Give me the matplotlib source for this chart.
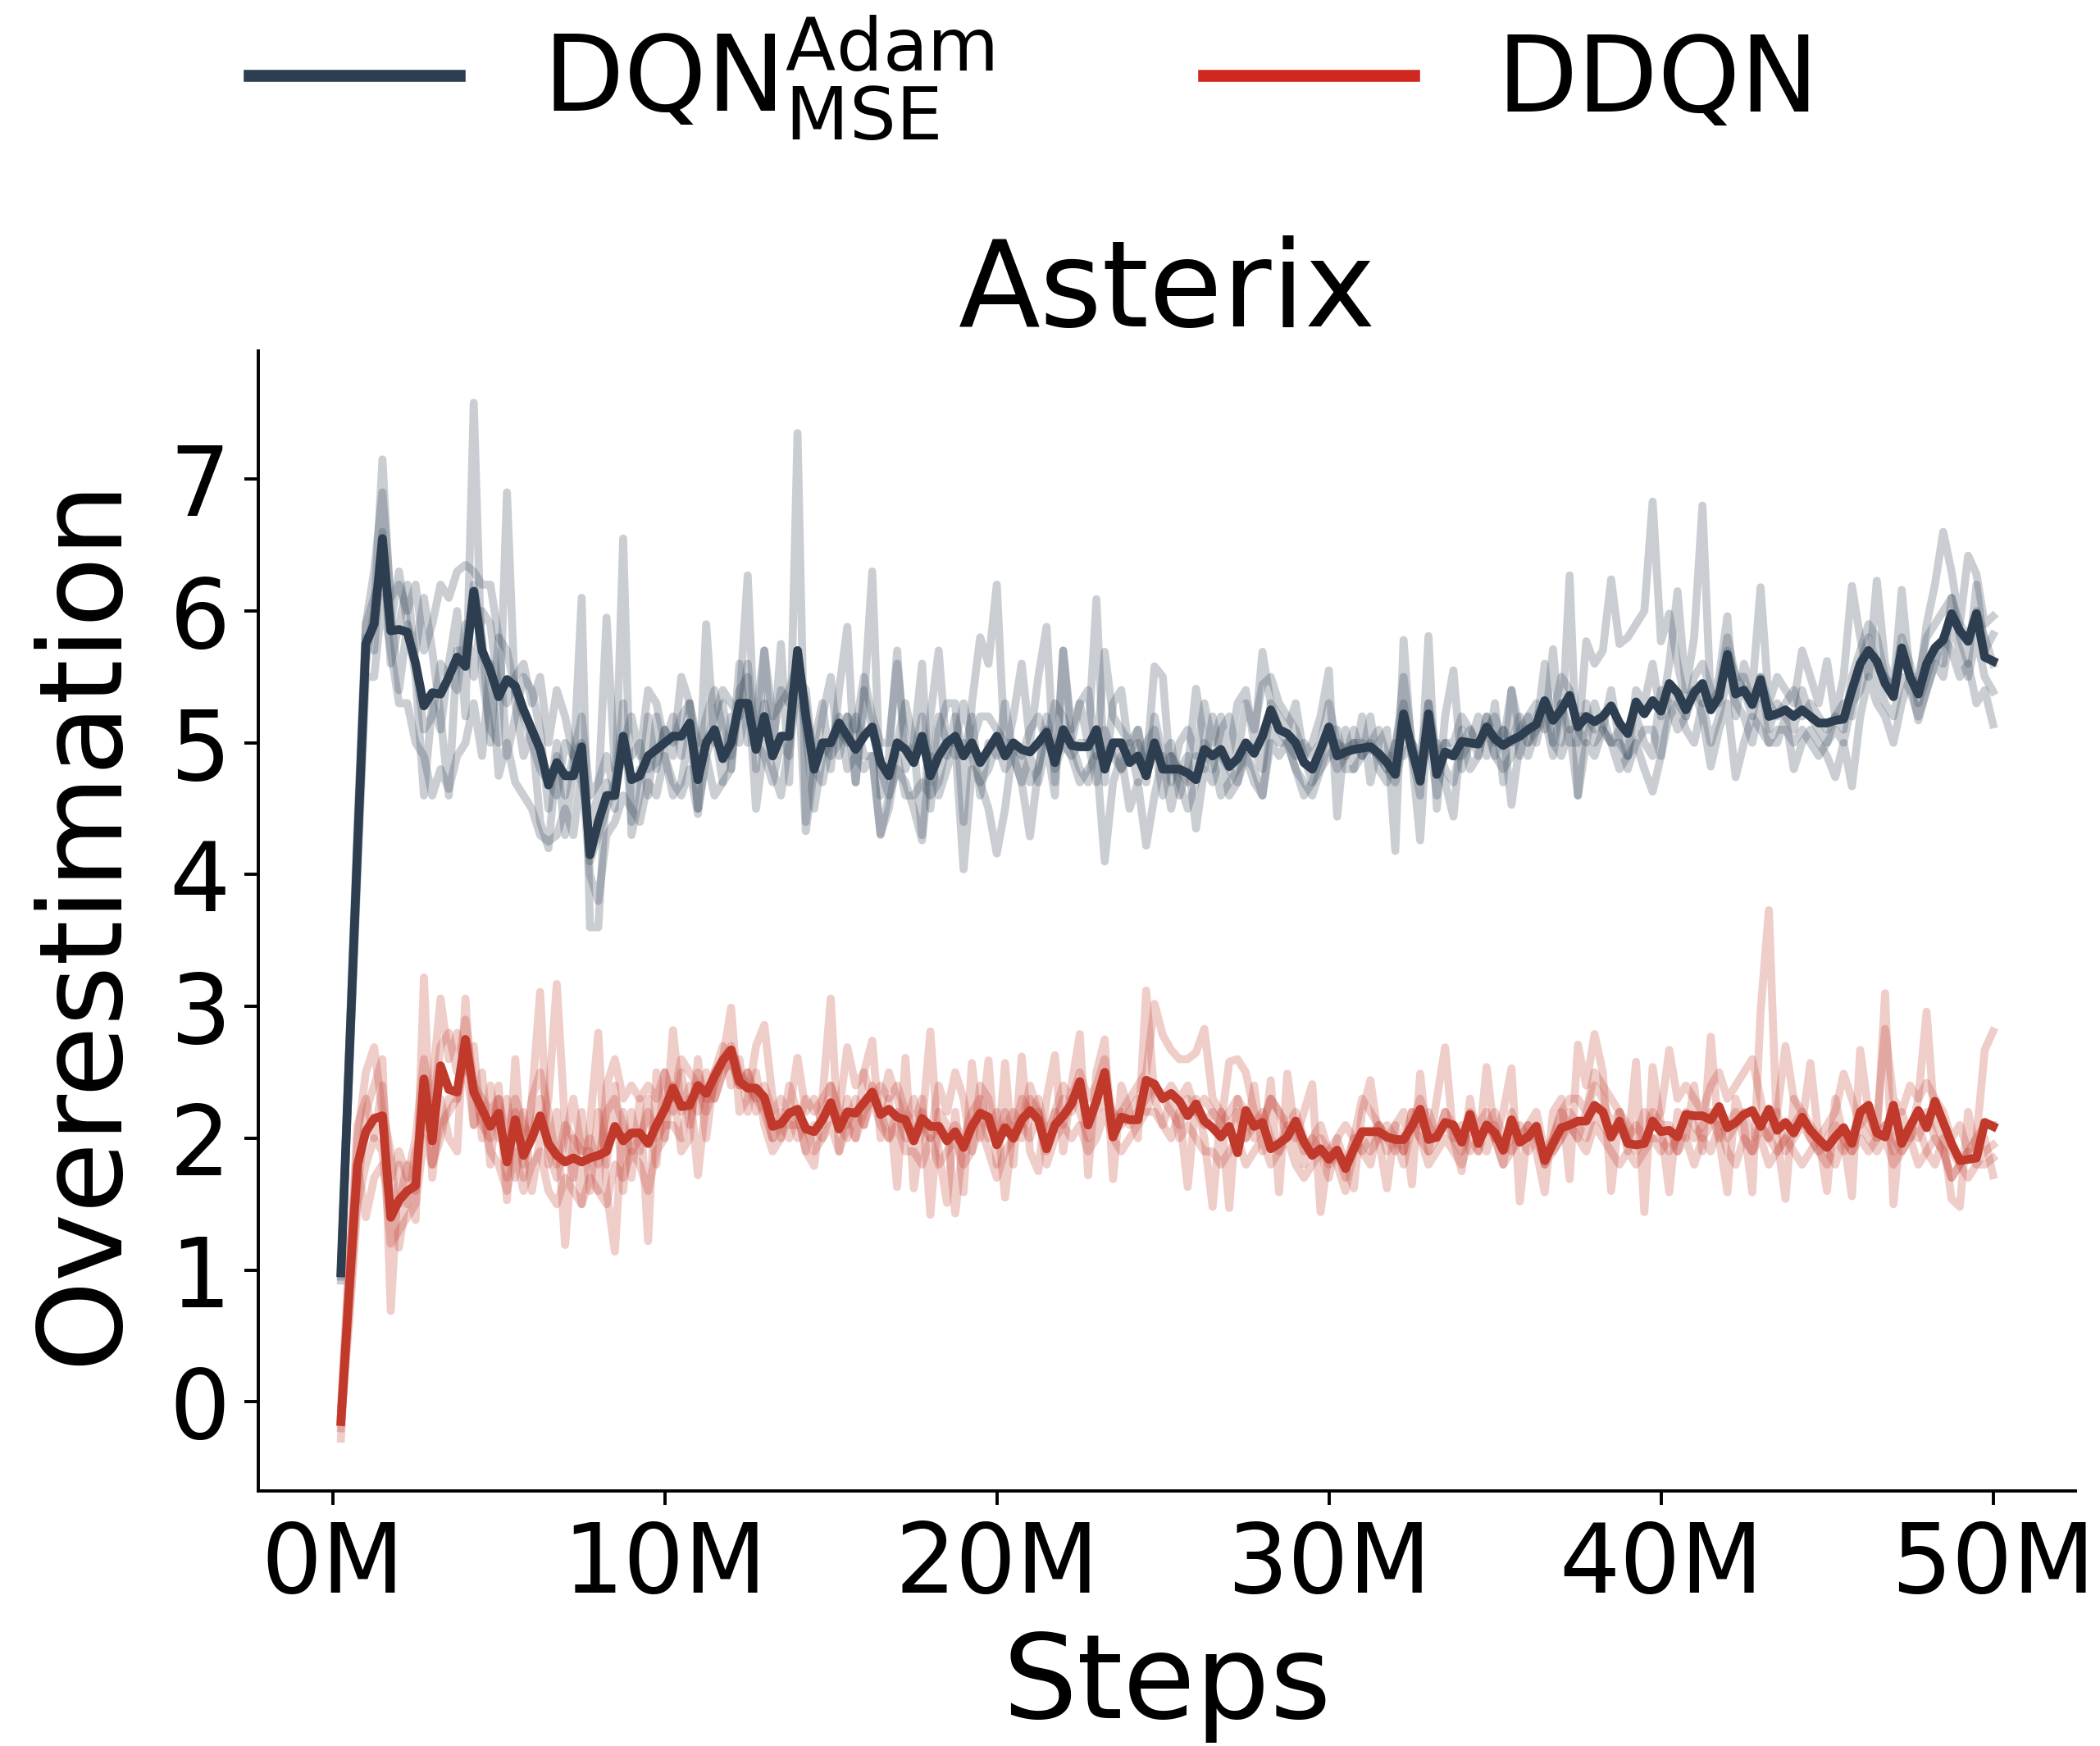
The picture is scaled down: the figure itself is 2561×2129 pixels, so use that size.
import matplotlib
matplotlib.use('Agg')
import matplotlib.pyplot as plt
from matplotlib.lines import Line2D
import numpy as np

# x positions: every 0.25M steps, from 0.25M to 50M
steps = np.arange(1, 201) * 0.25

dqn_mean = [0.98, 2.6, 4.2, 5.75, 5.9, 6.55, 5.85, 5.86, 5.84, 5.6, 5.28, 5.38, 5.37, 5.5, 5.65, 5.58, 6.15, 5.7, 5.55, 5.35,
            5.48, 5.43, 5.25, 5.1, 4.95, 4.68, 4.85, 4.75, 4.75, 4.97, 4.15, 4.4, 4.6, 4.6, 5.05, 4.72, 4.75, 4.9, 4.95, 5.0,
            5.05, 5.05, 5.15, 4.72, 5.0, 5.1, 4.88, 5.0, 5.3, 5.3, 4.95, 5.2, 4.9, 5.05, 5.05, 5.7, 5.2, 4.8, 5.0, 5.0,
            5.15, 5.05, 4.95, 5.05, 5.12, 4.85, 4.75, 5.0, 4.95, 4.85, 5.05, 4.75, 4.9, 5.0, 5.05, 4.9, 5.0, 4.85, 4.95, 5.05,
            4.9, 5.0, 4.95, 4.93, 5.0, 5.08, 4.85, 5.1, 4.98, 4.97, 4.97, 5.1, 4.8, 5.0, 5.0, 4.85, 4.9, 4.75, 5.0, 4.8,
            4.8, 4.8, 4.77, 4.72, 4.95, 4.9, 4.95, 4.82, 4.88, 5.0, 4.92, 5.05, 5.25, 5.1, 5.07, 5.0, 4.85, 4.8, 4.95, 5.12,
            4.9, 4.93, 4.95, 4.96, 4.97, 4.92, 4.85, 4.76, 5.22, 4.95, 4.71, 5.22, 4.76, 4.93, 4.9, 5.01, 5.0, 4.99, 5.12, 5.03,
            4.98, 5.02, 5.05, 5.1, 5.14, 5.32, 5.17, 5.25, 5.36, 5.12, 5.2, 5.16, 5.2, 5.28, 5.15, 5.07, 5.31, 5.22, 5.32, 5.24,
            5.45, 5.38, 5.25, 5.38, 5.45, 5.25, 5.35, 5.67, 5.37, 5.4, 5.29, 5.48, 5.2, 5.22, 5.25, 5.2, 5.25, 5.2, 5.15, 5.15,
            5.17, 5.18, 5.4, 5.6, 5.7, 5.62, 5.45, 5.35, 5.72, 5.5, 5.37, 5.6, 5.72, 5.78, 5.98, 5.85, 5.77, 5.98, 5.65, 5.62]

dqn_seed1 = [0.95, 2.5, 4.1, 5.6, 6.0, 7.15, 6.0, 5.4, 5.9, 5.5, 4.6, 5.3, 5.1, 5.6, 6.0, 5.2, 7.58, 5.5, 5.1, 5.0,
             6.9, 5.3, 4.9, 5.1, 4.4, 4.2, 4.9, 4.3, 4.8, 6.1, 3.6, 3.6, 4.7, 4.5, 6.55, 4.3, 4.6, 5.2, 4.8, 5.1,
             4.9, 5.5, 5.3, 4.5, 5.9, 5.0, 5.3, 4.8, 5.6, 5.0, 5.2, 5.7, 4.9, 5.75, 4.7, 7.35, 4.4, 5.0, 5.3, 4.8,
             5.4, 5.88, 4.7, 5.3, 6.3, 4.6, 4.9, 5.7, 4.8, 5.0, 5.6, 4.5, 5.1, 5.3, 5.3, 4.4, 5.3, 5.8, 5.6, 6.2,
             4.9, 5.2, 5.6, 5.0, 5.5, 5.88, 4.7, 5.7, 5.1, 5.3, 5.0, 6.09, 4.7, 5.3, 5.4, 4.9, 5.1, 4.8, 5.58, 5.5,
             4.7, 5.0, 5.1, 4.9, 5.3, 5.0, 5.2, 4.9, 5.3, 5.4, 5.0, 5.69, 5.3, 5.2, 5.1, 5.3, 4.9, 5.0, 5.2, 5.55,
             4.44, 5.1, 4.8, 5.2, 4.7, 5.0, 5.1, 4.18, 5.78, 4.9, 4.6, 5.81, 4.5, 5.2, 5.55, 4.8, 5.0, 5.2, 4.9, 5.3,
             4.7, 5.4, 4.9, 5.2, 5.3, 5.1, 5.71, 5.0, 6.27, 4.6, 5.3, 5.0, 5.1, 5.4, 5.0, 4.9, 5.4, 5.3, 5.6, 5.2,
             5.6, 6.15, 5.4, 5.8, 6.8, 5.3, 5.5, 5.96, 5.2, 5.6, 5.4, 6.18, 5.3, 5.5, 5.4, 5.3, 5.7, 5.5, 5.3, 5.62,
             5.2, 5.5, 6.19, 5.8, 5.5, 6.23, 5.6, 5.4, 6.16, 5.5, 5.4, 5.9, 6.2, 6.6, 6.3, 5.9, 6.42, 6.28, 5.9, 5.96]
dqn_seed2 = [0.92, 2.7, 4.4, 5.9, 6.3, 6.9, 6.1, 6.2, 6.0, 6.2, 5.7, 5.9, 6.2, 6.1, 6.3, 6.35, 6.3, 6.2, 6.2, 5.8,
             5.7, 5.4, 5.2, 5.0, 4.8, 4.7, 4.6, 5.0, 4.9, 4.7, 4.4, 4.6, 5.95, 4.8, 5.0, 5.2, 4.9, 5.4, 5.3, 5.0,
             5.2, 4.9, 5.3, 4.9, 5.2, 5.4, 5.1, 4.9, 5.3, 6.27, 4.8, 5.7, 5.2, 5.3, 5.4, 5.6, 5.3, 4.8, 4.7, 5.0,
             5.1, 5.0, 5.2, 4.9, 4.9, 4.3, 4.6, 5.0, 5.3, 5.0, 4.3, 5.2, 5.7, 4.9, 5.2, 4.9, 5.2, 4.6, 5.0, 4.9,
             5.3, 4.9, 4.7, 4.29, 4.8, 5.1, 4.8, 5.0, 4.9, 4.7, 4.8, 4.9, 4.1, 4.7, 4.9, 4.5, 4.7, 4.22, 4.6, 4.9,
             4.5, 4.8, 4.9, 4.35, 4.8, 4.7, 4.9, 4.6, 4.7, 4.9, 4.8, 4.6, 5.0, 4.9, 5.0, 4.8, 4.7, 4.6, 4.8, 4.9,
             5.0, 4.9, 5.1, 4.9, 5.2, 4.8, 4.7, 5.0, 5.3, 4.9, 4.26, 5.3, 4.8, 4.7, 4.44, 5.1, 4.8, 4.9, 5.2, 4.9,
             5.1, 4.53, 5.0, 4.9, 5.1, 5.2, 4.9, 5.3, 5.0, 5.0, 5.77, 5.6, 5.7, 6.24, 5.75, 5.8, 5.9, 6.0, 6.83, 5.77,
             5.98, 5.6, 5.3, 5.4, 5.2, 4.82, 5.1, 5.3, 4.74, 5.0, 5.2, 5.1, 5.0, 5.0, 5.2, 4.8, 5.0, 5.1, 5.0, 4.9,
             4.74, 5.0, 4.67, 5.2, 5.5, 5.3, 5.2, 5.0, 5.3, 5.5, 5.17, 5.4, 5.6, 5.8, 5.7, 5.5, 5.6, 5.3, 5.4, 5.14]
dqn_seed3 = [0.97, 2.6, 4.2, 5.8, 5.7, 6.6, 5.6, 5.9, 6.2, 5.6, 5.1, 5.2, 5.6, 5.5, 5.4, 5.9, 5.5, 6.0, 5.9, 5.4,
             5.3, 5.5, 5.6, 5.3, 5.5, 5.0, 5.4, 5.2, 4.9, 5.0, 4.1, 4.3, 4.5, 4.7, 4.9, 4.9, 5.0, 4.6, 5.2, 4.9,
             4.6, 4.7, 5.1, 4.5, 4.9, 4.6, 4.7, 4.8, 5.4, 5.5, 4.5, 5.0, 4.8, 4.6, 5.0, 5.6, 4.33, 4.8, 5.2, 5.5,
             4.9, 5.2, 4.7, 5.4, 5.1, 4.8, 4.6, 4.8, 4.7, 4.5, 4.26, 4.9, 4.6, 4.8, 5.0, 4.04, 4.8, 4.7, 4.5, 4.16,
             4.5, 5.0, 4.9, 5.1, 5.2, 5.0, 5.3, 5.2, 5.0, 5.3, 5.4, 4.9, 5.69, 5.2, 5.1, 5.0, 5.1, 4.7, 5.2, 4.9,
             5.0, 4.6, 4.8, 5.41, 5.0, 4.8, 5.1, 5.2, 4.9, 5.3, 5.1, 5.44, 5.5, 5.3, 5.2, 5.1, 4.9, 4.7, 4.8, 5.0,
             4.8, 4.9, 5.0, 4.9, 5.0, 5.1, 4.9, 4.9, 5.5, 5.0, 4.9, 5.3, 4.9, 5.0, 5.0, 5.2, 5.1, 5.0, 5.1, 5.2,
             5.0, 5.4, 5.1, 5.0, 5.2, 5.3, 5.2, 5.5, 5.4, 5.1, 5.0, 5.3, 5.1, 5.0, 5.1, 4.9, 5.2, 5.0, 4.9, 5.4,
             5.3, 5.1, 5.2, 5.5, 5.6, 5.4, 5.3, 5.7, 5.5, 5.4, 5.2, 5.5, 5.1, 5.3, 5.2, 5.1, 5.4, 5.2, 5.1, 5.0,
             5.2, 5.1, 5.5, 5.7, 5.9, 5.8, 5.5, 5.4, 5.8, 5.6, 5.3, 5.5, 5.7, 5.6, 6.1, 5.8, 5.6, 6.2, 5.7, 5.82]
dqn_seed4 = [0.98, 2.5, 4.0, 5.5, 5.5, 6.1, 5.7, 5.3, 5.3, 5.0, 4.9, 4.6, 4.8, 4.65, 4.9, 5.0, 5.3, 4.9, 5.6, 4.75,
             5.0, 4.7, 4.6, 4.5, 4.3, 4.25, 4.3, 4.5, 4.3, 4.8, 4.0, 3.8, 4.3, 4.4, 4.6, 4.5, 4.4, 4.7, 4.6, 4.9,
             4.7, 4.6, 4.8, 4.46, 4.9, 5.1, 4.7, 5.2, 5.0, 5.3, 5.0, 4.9, 4.7, 5.0, 4.9, 5.5, 5.1, 4.5, 4.9, 5.0,
             5.2, 4.8, 4.9, 4.8, 4.9, 4.31, 4.5, 4.9, 4.6, 4.6, 4.7, 4.6, 4.7, 5.0, 4.9, 5.0, 4.9, 4.7, 4.8, 5.0,
             4.8, 4.9, 4.7, 4.9, 4.7, 5.0, 4.6, 5.7, 5.0, 4.8, 4.7, 5.0, 4.9, 5.0, 4.8, 4.9, 5.0, 4.8, 5.0, 4.6,
             4.9, 4.7, 4.5, 4.7, 5.0, 4.9, 4.6, 4.7, 4.8, 4.9, 4.7, 4.6, 5.1, 5.0, 5.0, 4.8, 4.6, 4.7, 4.9, 5.1,
             5.1, 4.8, 4.8, 4.9, 5.0, 4.9, 4.8, 4.7, 5.0, 5.0, 4.7, 5.1, 4.6, 5.0, 4.9, 4.9, 5.0, 5.0, 5.1, 4.9,
             4.8, 4.9, 5.1, 5.2, 5.0, 5.3, 5.0, 4.9, 5.1, 4.6, 5.0, 4.9, 5.1, 5.0, 4.8, 4.9, 5.0, 4.8, 4.63, 4.9,
             5.2, 5.3, 5.1, 5.0, 5.3, 5.0, 5.2, 5.5, 5.3, 5.2, 5.0, 5.3, 5.0, 5.1, 5.1, 5.0, 5.1, 5.0, 4.9, 5.0,
             5.1, 5.0, 5.3, 5.4, 5.6, 5.5, 5.3, 5.2, 5.5, 5.4, 5.2, 5.4, 5.6, 5.5, 5.9, 5.7, 5.5, 5.8, 5.5, 5.39]
dqn_seed5 = [1.0, 2.7, 4.3, 5.9, 6.1, 6.3, 5.9, 6.3, 5.9, 5.7, 6.1, 5.7, 5.2, 4.6, 5.7, 5.7, 6.2, 5.8, 5.0, 5.8,
             4.9, 5.2, 5.5, 5.4, 5.1, 4.5, 5.0, 4.6, 4.9, 5.2, 4.6, 4.7, 4.9, 4.6, 5.3, 4.4, 4.8, 4.8, 4.85, 5.1,
             5.0, 5.2, 5.3, 5.0, 5.0, 5.2, 5.4, 5.3, 5.2, 5.6, 5.0, 5.3, 5.0, 5.4, 5.3, 5.5, 5.4, 4.8, 5.0, 4.9,
             5.0, 5.2, 5.1, 5.5, 5.2, 5.0, 5.0, 5.6, 5.0, 4.9, 5.2, 4.7, 5.2, 5.0, 5.0, 5.3, 5.0, 5.2, 5.2, 5.1,
             5.0, 5.0, 4.9, 4.7, 4.8, 5.2, 4.9, 5.0, 4.9, 5.0, 5.0, 4.7, 5.1, 4.9, 4.8, 5.0, 4.7, 5.0, 5.1, 4.8,
             4.9, 4.8, 4.7, 4.9, 4.8, 5.2, 4.9, 4.8, 4.7, 5.0, 4.95, 4.8, 5.3, 5.1, 5.0, 4.9, 5.0, 4.9, 5.0, 5.3,
             5.0, 4.95, 5.0, 5.0, 4.95, 4.9, 4.8, 5.0, 4.9, 5.0, 4.8, 5.0, 5.0, 4.8, 4.7, 5.0, 5.1, 4.9, 5.2, 5.0,
             5.1, 5.0, 5.2, 5.0, 5.1, 5.6, 5.0, 5.3, 5.1, 5.2, 5.2, 5.1, 5.2, 5.0, 5.0, 4.8, 5.0, 5.1, 5.1, 4.9,
             5.4, 5.3, 5.2, 5.4, 5.3, 5.3, 5.4, 5.8, 5.5, 5.5, 5.3, 5.5, 5.3, 5.2, 5.3, 5.4, 5.2, 5.3, 5.2, 5.1,
             5.2, 5.3, 5.2, 5.6, 5.8, 5.6, 5.5, 5.4, 5.7, 5.5, 5.5, 5.8, 5.9, 6.0, 6.1, 5.9, 5.8, 6.0, 5.8, 5.6]

ddqn_mean = [-0.15, 0.85, 1.8, 2.05, 2.15, 2.17, 1.4, 1.53, 1.6, 1.64, 2.45, 1.98, 2.55, 2.37, 2.35, 2.75, 2.35, 2.22, 2.09, 2.19,
             1.82, 2.14, 1.87, 2.0, 2.17, 1.96, 1.87, 1.82, 1.85, 1.82, 1.85, 1.87, 1.9, 2.09, 1.98, 2.04, 2.04, 1.96, 2.1, 2.22,
             2.38, 2.24, 2.25, 2.4, 2.34, 2.47, 2.59, 2.67, 2.43, 2.38, 2.38, 2.31, 2.09, 2.11, 2.19, 2.22, 2.07, 2.05, 2.14, 2.27,
             2.07, 2.2, 2.19, 2.27, 2.35, 2.18, 2.22, 2.16, 2.14, 1.98, 2.15, 2.09, 2.09, 1.98, 2.05, 1.93, 2.09, 2.19, 2.16, 1.95,
             2.08, 2.0, 2.14, 2.21, 2.14, 1.92, 2.1, 2.17, 2.26, 2.43, 2.1, 2.28, 2.5, 2.01, 2.16, 2.14, 2.14, 2.44, 2.41, 2.3,
             2.34, 2.28, 2.17, 2.26, 2.13, 2.08, 2.01, 2.09, 1.89, 2.21, 2.09, 2.12, 1.92, 1.96, 2.01, 2.13, 1.97, 1.87, 1.92, 1.84,
             1.91, 1.77, 1.92, 2.05, 2.05, 2.05, 2.01, 1.99, 1.99, 2.09, 2.22, 1.99, 2.01, 2.12, 2.1, 1.97, 2.18, 1.96, 2.1, 2.04,
             1.91, 2.14, 1.97, 2.01, 2.09, 1.83, 1.96, 2.08, 2.1, 2.13, 2.13, 2.25, 2.2, 2.01, 2.13, 1.96, 1.95, 1.96, 2.13, 2.05,
             2.06, 2.01, 2.18, 2.17, 2.17, 2.14, 2.24, 2.08, 2.12, 2.18, 2.21, 2.09, 2.22, 2.06, 2.12, 2.04, 2.16, 2.06, 1.99, 1.93,
             2.01, 2.08, 1.96, 2.2, 2.25, 2.04, 2.01, 2.25, 1.96, 2.09, 2.21, 2.08, 2.28, 2.12, 1.96, 1.83, 1.84, 1.85, 2.12, 2.09]

ddqn_seed1 = [-0.28, 0.9, 2.0, 2.5, 2.69, 2.2, 1.9, 1.17, 1.6, 1.38, 3.22, 1.7, 2.3, 2.0, 1.9, 3.06, 2.1, 2.5, 1.8, 2.4,
              1.53, 2.6, 1.7, 2.3, 3.11, 1.8, 2.2, 1.19, 2.0, 1.5, 2.1, 2.8, 1.6, 1.14, 2.2, 1.7, 2.3, 1.22, 2.5, 2.0,
              2.82, 2.2, 2.4, 1.72, 2.3, 2.5, 2.6, 2.99, 2.2, 2.3, 2.7, 2.86, 2.3, 2.0, 2.4, 2.2, 1.9, 1.79, 2.3, 3.06,
              1.9, 2.3, 2.0, 2.5, 2.74, 2.0, 2.3, 1.63, 2.61, 1.62, 2.1, 2.81, 1.9, 1.51, 2.2, 1.59, 2.57, 2.0, 2.59, 1.8,
              2.57, 1.8, 2.62, 1.9, 1.75, 2.3, 2.63, 1.9, 2.4, 2.79, 1.72, 2.5, 2.75, 1.69, 2.4, 2.2, 2.0, 3.12, 2.3, 2.1,
              2.0, 2.2, 1.63, 2.3, 2.0, 1.48, 2.2, 1.47, 2.3, 2.0, 2.4, 1.9, 2.44, 1.59, 2.49, 2.0, 2.2, 2.41, 1.44, 1.9,
              2.0, 1.8, 1.62, 2.2, 2.44, 2.0, 1.62, 2.1, 2.2, 1.65, 2.49, 1.9, 2.3, 2.69, 2.0, 1.75, 2.3, 1.9, 2.54, 2.0,
              2.2, 2.53, 1.52, 2.1, 1.9, 1.59, 2.2, 2.3, 1.69, 2.71, 2.4, 2.79, 2.5, 1.6, 2.2, 1.9, 2.58, 1.44, 2.54, 2.1,
              1.59, 2.2, 2.0, 2.4, 1.9, 2.77, 2.0, 1.59, 2.3, 2.1, 1.59, 2.96, 3.73, 2.0, 1.54, 2.3, 2.1, 2.57, 2.0, 1.6,
              2.3, 2.0, 1.56, 2.67, 2.2, 2.0, 3.1, 1.5, 2.2, 2.0, 2.3, 2.96, 2.1, 2.0, 1.54, 1.48, 2.2, 1.9, 2.0, 1.72]
ddqn_seed2 = [-0.2, 0.7, 1.6, 2.2, 2.4, 2.6, 0.69, 1.8, 1.5, 1.9, 2.1, 2.4, 3.06, 2.6, 2.8, 2.5, 2.7, 2.0, 2.4, 2.0,
              2.3, 1.7, 2.2, 1.6, 2.0, 2.3, 3.17, 2.1, 1.7, 2.2, 1.6, 2.2, 1.8, 2.4, 1.6, 2.2, 1.9, 2.3, 1.8, 2.5,
              2.3, 2.6, 2.5, 2.4, 2.2, 2.4, 2.6, 2.7, 2.5, 2.4, 2.3, 2.4, 2.2, 2.3, 2.2, 2.61, 2.2, 2.3, 2.1, 2.4,
              2.2, 2.69, 2.4, 2.5, 2.3, 2.4, 2.3, 2.4, 2.2, 2.1, 2.3, 1.42, 2.2, 2.1, 1.43, 2.0, 2.1, 2.2, 2.0, 2.2,
              1.55, 2.1, 2.0, 2.3, 2.2, 1.9, 2.1, 2.3, 2.2, 2.4, 2.1, 2.3, 2.5, 2.1, 2.2, 2.3, 2.4, 2.5, 3.02, 2.78,
              2.67, 2.6, 2.6, 2.65, 2.83, 2.3, 2.2, 2.1, 2.2, 2.0, 2.1, 2.2, 2.0, 1.9, 2.1, 2.0, 1.8, 2.0, 1.9, 1.8,
              1.9, 1.7, 2.0, 2.3, 2.2, 2.1, 2.0, 1.9, 2.0, 2.1, 2.3, 2.1, 2.0, 2.2, 2.1, 2.0, 2.2, 2.1, 2.2, 2.0,
              1.8, 2.2, 2.0, 2.1, 2.2, 1.9, 2.0, 2.2, 2.3, 2.3, 2.2, 2.5, 2.4, 2.3, 2.2, 2.1, 2.0, 2.2, 2.1, 2.2,
              2.67, 2.3, 2.4, 2.3, 2.2, 2.4, 2.5, 2.3, 2.4, 2.5, 2.6, 2.3, 2.0, 2.2, 2.7, 2.3, 2.2, 2.1, 2.0, 2.1,
              2.2, 2.49, 2.3, 2.1, 2.2, 2.1, 2.83, 2.3, 2.2, 2.4, 2.3, 2.42, 2.3, 2.2, 2.0, 2.1, 1.9, 2.0, 2.67, 2.81]
ddqn_seed3 = [-0.1, 1.0, 2.1, 2.3, 2.0, 2.4, 1.7, 1.9, 1.7, 2.0, 2.6, 2.2, 2.7, 2.8, 2.5, 2.9, 2.4, 2.3, 2.2, 2.3,
              2.0, 2.3, 2.1, 2.0, 2.3, 1.9, 1.7, 2.0, 2.3, 1.9, 2.0, 1.8, 2.2, 2.3, 2.1, 1.9, 2.0, 2.2, 2.0, 2.1,
              2.1, 2.0, 2.3, 2.2, 2.5, 2.3, 2.5, 2.6, 2.4, 2.5, 2.3, 2.2, 2.0, 2.1, 2.0, 2.2, 1.9, 2.1, 2.0, 2.2,
              2.1, 2.0, 2.2, 2.1, 2.3, 2.1, 2.0, 2.2, 2.0, 2.0, 2.2, 2.0, 2.1, 2.0, 2.1, 2.0, 2.2, 2.3, 2.1, 2.0,
              2.1, 2.2, 2.1, 2.4, 2.2, 2.0, 2.2, 2.1, 2.3, 2.2, 2.0, 2.2, 2.3, 2.2, 2.1, 2.2, 2.3, 2.2, 2.4, 2.3,
              2.2, 2.1, 2.3, 2.2, 2.1, 2.2, 2.1, 2.58, 2.6, 2.5, 2.2, 2.1, 2.3, 2.2, 2.0, 2.1, 1.9, 2.0, 2.1, 1.9,
              1.8, 1.6, 1.9, 2.0, 1.9, 2.0, 2.1, 2.0, 1.8, 2.1, 2.0, 1.8, 1.9, 2.0, 1.9, 1.8, 2.0, 1.9, 2.1, 2.0,
              1.8, 1.9, 2.0, 1.9, 2.0, 1.8, 1.9, 2.0, 2.1, 2.0, 1.9, 2.1, 2.0, 1.9, 1.8, 1.9, 1.8, 1.9, 2.0, 1.9,
              2.0, 1.9, 2.1, 2.0, 2.1, 2.2, 2.0, 2.1, 2.2, 2.0, 1.9, 2.1, 2.0, 2.2, 1.9, 2.0, 2.1, 2.0, 1.9, 1.8,
              2.0, 1.9, 2.0, 2.2, 2.1, 2.0, 2.1, 1.9, 2.0, 2.1, 2.0, 2.2, 2.0, 1.9, 1.7, 1.8, 1.9, 2.0, 2.1, 2.1]
ddqn_seed4 = [-0.15, 0.6, 1.5, 1.8, 2.0, 1.9, 1.2, 1.3, 1.4, 1.5, 2.0, 1.8, 2.1, 2.2, 2.3, 2.6, 2.1, 2.2, 1.9, 1.8,
              1.6, 1.9, 1.6, 1.8, 1.9, 1.6, 1.5, 1.7, 1.6, 1.5, 1.7, 1.6, 1.5, 1.8, 1.7, 1.9, 1.8, 1.6, 1.9, 2.0,
              2.4, 1.9, 2.0, 2.6, 2.0, 2.5, 2.7, 2.4, 2.6, 2.2, 2.5, 2.1, 1.9, 2.0, 2.2, 2.0, 2.1, 1.9, 2.0, 2.1,
              1.9, 2.1, 2.0, 2.2, 2.3, 2.2, 2.0, 2.1, 1.9, 1.9, 1.8, 2.0, 1.8, 1.9, 2.0, 1.8, 1.9, 2.1, 1.9, 1.7,
              1.9, 2.0, 2.1, 2.0, 2.2, 1.8, 2.0, 2.1, 2.0, 2.1, 1.9, 2.0, 2.2, 2.0, 1.9, 2.0, 2.1, 2.2, 2.2, 2.1,
              2.3, 2.0, 2.1, 2.0, 1.9, 1.9, 1.8, 1.9, 2.0, 1.8, 1.9, 2.0, 1.8, 1.9, 2.0, 1.8, 1.7, 1.8, 1.9, 1.7,
              2.0, 2.1, 2.0, 1.9, 1.8, 2.1, 2.0, 2.1, 1.9, 2.2, 2.1, 2.2, 2.0, 2.2, 2.0, 2.1, 1.9, 2.0, 2.1, 2.2,
              2.0, 1.9, 2.1, 2.0, 2.1, 1.8, 2.0, 2.2, 2.1, 2.0, 2.2, 2.4, 2.3, 2.1, 2.2, 2.0, 2.1, 2.0, 2.2, 2.1,
              2.1, 1.9, 2.0, 1.8, 2.0, 1.9, 2.1, 1.9, 1.8, 2.0, 1.9, 2.0, 1.8, 1.9, 2.0, 1.9, 1.8, 1.9, 2.0, 1.9,
              1.8, 2.0, 1.9, 2.1, 2.0, 1.9, 2.0, 1.8, 1.9, 2.0, 1.8, 1.9, 2.0, 1.9, 1.7, 1.8, 1.9, 1.8, 1.9, 1.95]
ddqn_seed5 = [-0.05, 1.1, 1.8, 1.4, 1.7, 1.8, 1.5, 1.5, 1.8, 1.6, 2.3, 1.8, 2.0, 2.3, 2.3, 2.7, 2.4, 2.1, 2.0, 2.3,
              1.7, 2.2, 1.8, 2.3, 2.5, 2.2, 1.8, 2.1, 2.0, 1.9, 1.9, 1.6, 2.4, 2.6, 2.3, 2.4, 2.3, 2.4, 2.3, 2.5,
              2.2, 2.5, 2.1, 2.5, 2.3, 2.3, 2.5, 2.6, 2.4, 2.5, 2.2, 2.3, 2.0, 2.2, 2.1, 2.1, 2.3, 2.2, 2.3, 2.4,
              2.2, 2.1, 2.3, 2.1, 2.4, 2.2, 2.5, 2.3, 2.1, 2.3, 2.1, 2.0, 2.4, 2.2, 2.5, 2.3, 1.9, 2.4, 2.3, 2.0,
              2.2, 2.0, 2.3, 2.2, 2.3, 2.0, 2.2, 2.4, 2.3, 2.5, 2.3, 2.4, 2.6, 2.1, 2.2, 2.1, 2.2, 2.3, 2.4, 2.3,
              2.4, 2.3, 2.4, 2.2, 2.3, 2.2, 2.1, 2.2, 2.3, 2.2, 2.0, 2.1, 2.3, 2.2, 2.1, 2.2, 2.0, 1.9, 2.0, 1.9,
              1.9, 1.8, 2.0, 1.9, 2.0, 2.1, 1.9, 2.0, 1.9, 2.2, 2.0, 1.9, 2.0, 2.1, 2.0, 1.9, 2.1, 2.0, 1.9, 2.1,
              1.9, 2.0, 2.0, 2.1, 2.0, 1.9, 1.9, 2.0, 2.2, 2.1, 2.0, 2.2, 2.1, 2.0, 2.1, 2.0, 1.9, 2.0, 2.0, 2.0,
              1.9, 2.0, 2.2, 2.1, 2.0, 2.1, 2.2, 2.0, 2.1, 2.2, 2.0, 2.1, 2.0, 1.9, 2.0, 2.1, 2.2, 2.0, 1.9, 2.0,
              2.1, 2.0, 1.9, 2.0, 1.9, 2.0, 2.1, 2.0, 1.9, 2.0, 2.1, 1.9, 1.8, 2.0, 1.9, 1.8, 1.7, 1.8, 1.8, 1.85]

dqn_seeds = [dqn_seed1, dqn_seed2, dqn_seed3, dqn_seed4, dqn_seed5]
ddqn_seeds = [ddqn_seed1, ddqn_seed2, ddqn_seed3, ddqn_seed4, ddqn_seed5]

blue = '#2c3e50'
red = '#c0392b'

fig = plt.figure(figsize=(2561 / 350, 2129 / 350), dpi=350)
ax = fig.add_axes([0.1230, 0.1463, 0.8654, 0.6527])

for s in dqn_seeds:
    ax.plot(steps, s, color=blue, alpha=0.25, lw=2.0)
for s in ddqn_seeds:
    ax.plot(steps, s, color=red, alpha=0.25, lw=2.0)
ax.plot(steps, dqn_mean, color=blue, lw=2.2)
ax.plot(steps, ddqn_mean, color=red, lw=2.2)

ax.spines['top'].set_visible(False)
ax.spines['right'].set_visible(False)
ax.set_xticks([0, 10, 20, 30, 40, 50])
ax.set_xticklabels(['0M', '10M', '20M', '30M', '40M', '50M'])
ax.set_yticks([0, 1, 2, 3, 4, 5, 6, 7])
ax.tick_params(labelsize=24)
ax.set_xlabel('Steps', fontsize=29.5, labelpad=4)
ax.set_ylabel('Overestimation', fontsize=29, labelpad=7.5)
ax.set_title('Asterix', fontsize=30)

handles = [Line2D([], [], color=blue, lw=3), Line2D([], [], color='#d0281f', lw=3)]
fig.legend(handles, [r'DQN$^{\mathrm{Adam}}_{\mathrm{MSE}}$', 'DDQN'], loc='upper center',
           bbox_to_anchor=(0.4925, 1.046), ncol=2, frameon=False, fontsize=26.3)

plt.savefig('out.png', dpi=350)
